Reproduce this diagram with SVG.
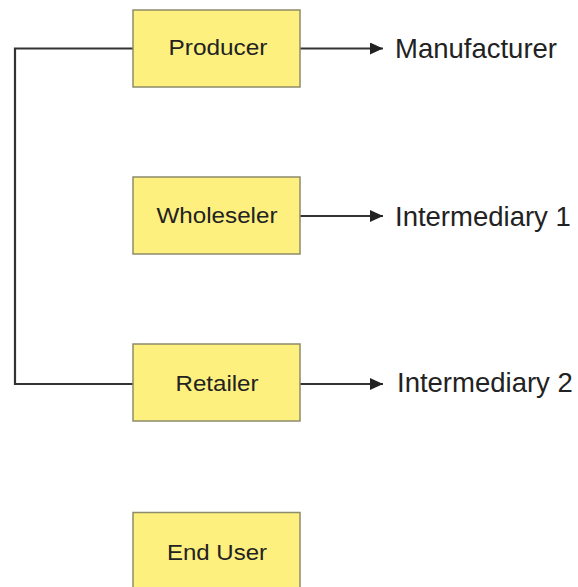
<svg xmlns="http://www.w3.org/2000/svg" width="578" height="587" viewBox="0 0 578 587">
  <style>
    .box { fill: #fdf07e; stroke: #8d8b6c; stroke-width: 1.5; }
    .btxt { font-family: "Liberation Sans", Arial, sans-serif; font-size: 22.5px; fill: #222; text-anchor: middle; }
    .lbl { font-family: "Liberation Sans", Arial, sans-serif; font-size: 27.5px; fill: #222; }
    .wire { fill: none; stroke: #333; stroke-width: 2.2; }
  </style>
  <defs>
    <marker id="arrow" markerWidth="13" markerHeight="12" refX="13" refY="6" orient="auto" markerUnits="userSpaceOnUse">
      <path d="M0,0 L13,6 L0,12 Z" fill="#222"/>
    </marker>
  </defs>
  <rect width="578" height="587" fill="#fff"/>

  <g id="connectors">
    <path class="wire" d="M133,48.5 H15 V384 H133"/>
    <path class="wire" d="M300,48.5 H383" marker-end="url(#arrow)"/>
    <path class="wire" d="M300,216 H383" marker-end="url(#arrow)"/>
    <path class="wire" d="M300,384 H383" marker-end="url(#arrow)"/>
  </g>

  <g id="producer">
    <rect class="box" x="133" y="10" width="167" height="77"/>
    <text class="btxt" x="218" y="55" textLength="99" lengthAdjust="spacingAndGlyphs">Producer</text>
  </g>
  <g id="wholeseler">
    <rect class="box" x="133" y="177" width="167" height="77"/>
    <text class="btxt" x="217" y="223" textLength="121" lengthAdjust="spacingAndGlyphs">Wholeseler</text>
  </g>
  <g id="retailer">
    <rect class="box" x="133" y="344" width="167" height="77"/>
    <text class="btxt" x="217" y="391" textLength="83" lengthAdjust="spacingAndGlyphs">Retailer</text>
  </g>
  <g id="end-user">
    <rect class="box" x="133" y="512.5" width="167" height="80"/>
    <text class="btxt" x="217" y="560" textLength="100" lengthAdjust="spacingAndGlyphs">End User</text>
  </g>

  <g id="labels">
    <text class="lbl" x="395" y="58">Manufacturer</text>
    <text class="lbl" x="395" y="226">Intermediary 1</text>
    <text class="lbl" x="397" y="392">Intermediary 2</text>
  </g>
</svg>
